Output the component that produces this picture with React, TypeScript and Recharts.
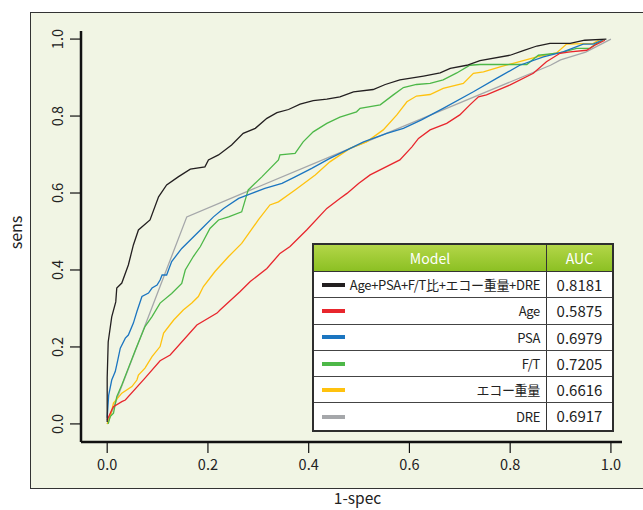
import React from 'react';
import { LineChart, Line, XAxis, YAxis } from 'recharts';

// ROC curves: [1-spec, sens]
const comboCurve: [number, number][] = [
  [0, 0.005], [0, 0.12], [0.002, 0.213], [0.009, 0.278], [0.017, 0.317], [0.019, 0.353],
  [0.029, 0.366], [0.042, 0.413], [0.052, 0.465], [0.062, 0.504], [0.085, 0.53], [0.102, 0.59],
  [0.118, 0.621], [0.141, 0.642], [0.165, 0.662], [0.194, 0.668], [0.201, 0.686], [0.221, 0.699],
  [0.247, 0.725], [0.27, 0.755], [0.294, 0.768], [0.317, 0.794], [0.337, 0.809], [0.36, 0.817],
  [0.383, 0.831], [0.409, 0.84], [0.436, 0.844], [0.462, 0.85], [0.489, 0.863], [0.528, 0.869],
  [0.552, 0.882], [0.581, 0.894], [0.628, 0.904], [0.661, 0.912], [0.681, 0.924], [0.714, 0.932],
  [0.74, 0.944], [0.8, 0.958], [0.826, 0.97], [0.853, 0.982], [0.879, 0.989], [0.919, 0.989],
  [0.948, 0.997], [0.991, 1.0],
];

const ageCurve: [number, number][] = [
  [0, 0.01], [0.009, 0.036], [0.0125, 0.045], [0.029, 0.058], [0.036, 0.062], [0.075, 0.119],
  [0.105, 0.164], [0.125, 0.179], [0.178, 0.257], [0.218, 0.288], [0.224, 0.296], [0.264, 0.344],
  [0.284, 0.37], [0.317, 0.404], [0.343, 0.443], [0.363, 0.461], [0.396, 0.504], [0.436, 0.56],
  [0.462, 0.586], [0.476, 0.599], [0.499, 0.625], [0.522, 0.647], [0.581, 0.686], [0.605, 0.72],
  [0.618, 0.742], [0.641, 0.764], [0.674, 0.781], [0.7, 0.803], [0.72, 0.829], [0.737, 0.85],
  [0.753, 0.855], [0.8, 0.881], [0.846, 0.911], [0.872, 0.941], [0.899, 0.963], [0.919, 0.967],
  [0.952, 0.971], [0.968, 0.984], [0.988, 0.997],
];

const psaCurve: [number, number][] = [
  [0, 0.016], [0.003, 0.075], [0.009, 0.114], [0.016, 0.136], [0.021, 0.166], [0.026, 0.197],
  [0.036, 0.223], [0.042, 0.231], [0.052, 0.262], [0.059, 0.292], [0.069, 0.331], [0.082, 0.34],
  [0.089, 0.353], [0.099, 0.361], [0.105, 0.374], [0.109, 0.387], [0.118, 0.387], [0.128, 0.422],
  [0.148, 0.456], [0.168, 0.482], [0.188, 0.508], [0.211, 0.538], [0.231, 0.56], [0.261, 0.586],
  [0.287, 0.599], [0.313, 0.612], [0.347, 0.625], [0.373, 0.642], [0.406, 0.664], [0.442, 0.69],
  [0.509, 0.733], [0.555, 0.755], [0.588, 0.768], [0.624, 0.79], [0.667, 0.82], [0.727, 0.863],
  [0.773, 0.898], [0.819, 0.932], [0.866, 0.954], [0.905, 0.967], [0.945, 0.987], [0.965, 0.987],
  [0.982, 0.997],
];

const ftCurve: [number, number][] = [
  [0.002, 0], [0.006, 0.019], [0.0125, 0.028], [0.019, 0.071], [0.029, 0.101], [0.042, 0.145],
  [0.056, 0.192], [0.075, 0.253], [0.089, 0.279], [0.105, 0.314], [0.128, 0.339], [0.148, 0.365],
  [0.155, 0.4], [0.171, 0.435], [0.185, 0.461], [0.204, 0.508], [0.221, 0.53], [0.241, 0.538],
  [0.267, 0.551], [0.28, 0.608], [0.307, 0.642], [0.34, 0.686], [0.343, 0.699], [0.373, 0.703],
  [0.389, 0.733], [0.409, 0.759], [0.436, 0.781], [0.462, 0.797], [0.495, 0.811], [0.502, 0.82],
  [0.542, 0.829], [0.568, 0.855], [0.588, 0.874], [0.614, 0.882], [0.641, 0.885], [0.667, 0.894],
  [0.694, 0.912], [0.72, 0.932], [0.74, 0.934], [0.833, 0.934], [0.856, 0.958], [0.899, 0.964],
  [0.932, 0.976], [0.958, 0.976], [0.972, 0.989], [0.985, 0.997],
];

const echoCurve: [number, number][] = [
  [0, 0], [0.006, 0.019], [0.0125, 0.054], [0.029, 0.08], [0.049, 0.097], [0.059, 0.114],
  [0.062, 0.127], [0.075, 0.145], [0.089, 0.175], [0.105, 0.201], [0.112, 0.236], [0.132, 0.27],
  [0.151, 0.296], [0.168, 0.314], [0.181, 0.331], [0.191, 0.357], [0.214, 0.396], [0.241, 0.435],
  [0.267, 0.469], [0.3, 0.53], [0.323, 0.569], [0.34, 0.577], [0.373, 0.608], [0.413, 0.647],
  [0.442, 0.681], [0.482, 0.716], [0.515, 0.733], [0.548, 0.764], [0.575, 0.803], [0.595, 0.837],
  [0.614, 0.852], [0.641, 0.856], [0.667, 0.872], [0.707, 0.885], [0.727, 0.911], [0.747, 0.915],
  [0.78, 0.928], [0.806, 0.937], [0.853, 0.954], [0.892, 0.964], [0.912, 0.987], [0.965, 0.989],
  [0.978, 0.999],
];

const dreCurve: [number, number][] = [
  [0, 0], [0.158, 0.538], [0.442, 0.694], [0.88, 0.932], [0.9, 0.946], [0.95, 0.966], [1.0, 1.0],
];

const modelNames = ['Age+PSA+F/T比+エコー重量+DRE', 'Age', 'PSA', 'F/T', 'エコー重量', 'DRE'];
const aucValues = ['0.8181', '0.5875', '0.6979', '0.7205', '0.6616', '0.6917'];
const xTicks = [0, 0.2, 0.4, 0.6, 0.8, 1.0];
const yTicks = [0, 0.2, 0.4, 0.6, 0.8, 1.0];

const curves = [comboCurve, ageCurve, psaCurve, ftCurve, echoCurve, dreCurve];
const colors = ['#231f20', '#e8262d', '#1b75c0', '#4db848', '#ffc20e', '#a5a7aa'];
const font = '"Noto Sans CJK JP", "Noto Sans", sans-serif';

const series = curves.map((c) => c.map(([x, y]) => ({ x, y })));

const XTick = (props: any) => {
  const { x, y, payload } = props;
  return (
    <text x={x} y={y} textAnchor="middle" dominantBaseline="central" fontSize={14.5} fill="#222" fontFamily={font}>
      {payload.value.toFixed(1)}
    </text>
  );
};

const YTick = (props: any) => {
  const { x, y, payload } = props;
  return (
    <text x={x} y={y} transform={`rotate(-90, ${x}, ${y})`} textAnchor="middle" dominantBaseline="central" fontSize={14.5} fill="#222" fontFamily={font}>
      {payload.value.toFixed(1)}
    </text>
  );
};

const AucTable = () => (
  <div style={{ position: 'absolute', left: 312, top: 243, width: 302, boxSizing: 'border-box', border: '2px solid #2e2e2e', background: '#fff', fontFamily: font }}>
    <div style={{ display: 'flex', height: 26, background: 'linear-gradient(to bottom, #b3d648, #8cc023)', color: '#fff', fontSize: 14, borderBottom: '1px solid #333' }}>
      <div style={{ width: 233, boxSizing: 'border-box', borderRight: '1.5px solid #333', textAlign: 'center', lineHeight: '26px' }}>Model</div>
      <div style={{ flex: 1, textAlign: 'center', lineHeight: '26px' }}>AUC</div>
    </div>
    {modelNames.map((name, i) => (
      <div key={name} style={{ display: 'flex', height: 26.3, boxSizing: 'border-box', borderBottom: i < modelNames.length - 1 ? '1px solid #444' : 'none', color: '#222' }}>
        <div style={{ width: 233, boxSizing: 'border-box', borderRight: '1.5px solid #333', display: 'flex', alignItems: 'center', paddingLeft: 8, paddingRight: 6 }}>
          <div style={{ width: 23, height: 4, background: colors[i], flexShrink: 0 }} />
          <div style={{ flex: 1, textAlign: 'right', fontSize: 13, letterSpacing: -0.3, whiteSpace: 'nowrap' }}>{name}</div>
        </div>
        <div style={{ flex: 1, textAlign: 'center', fontSize: 15, lineHeight: '25px' }}>{aucValues[i]}</div>
      </div>
    ))}
  </div>
);

export default function App() {
  const order = [5, 4, 3, 2, 1, 0];
  return (
    <div style={{ position: 'relative', width: 643, height: 510, overflow: 'hidden', background: '#fff' }}>
      <style>{'body{margin:0}'}</style>
      <div style={{ position: 'absolute', left: 30, top: 12, width: 660, height: 477, boxSizing: 'border-box', border: '1.5px solid #333', background: '#f1f5e4' }} />
      <div style={{ position: 'absolute', left: 0, top: 0 }}>
        <LineChart width={643} height={510} margin={{ top: 31, right: 21, bottom: 0, left: 0 }}>
          <XAxis
            type="number"
            dataKey="x"
            domain={[-0.052, 1.022]}
            allowDataOverflow
            ticks={xTicks}
            height={68}
            tickSize={11}
            tickMargin={10}
            tick={<XTick />}
            axisLine={{ stroke: '#111', strokeWidth: 2.5 }}
            tickLine={{ stroke: '#111', strokeWidth: 1.2 }}
            label={{
              content: ({ viewBox }: any) => (
                <text x={viewBox.x + viewBox.width / 2 + 6} y={viewBox.y + 55} textAnchor="middle" dominantBaseline="central" fontSize={15.5} fill="#222" fontFamily={font}>
                  1-spec
                </text>
              ),
            }}
          />
          <YAxis
            type="number"
            dataKey="y"
            domain={[-0.047, 1.021]}
            allowDataOverflow
            ticks={yTicks}
            width={81}
            tickSize={11}
            tickMargin={13}
            tick={<YTick />}
            axisLine={{ stroke: '#111', strokeWidth: 2.5 }}
            tickLine={{ stroke: '#111', strokeWidth: 1.2 }}
            label={{
              content: ({ viewBox }: any) => {
                const cx = viewBox.x + 15;
                const cy = viewBox.y + viewBox.height / 2 - 4;
                return (
                  <text x={cx} y={cy} transform={`rotate(-90, ${cx}, ${cy})`} textAnchor="middle" dominantBaseline="central" fontSize={16} fill="#222" fontFamily={font}>
                    sens
                  </text>
                );
              },
            }}
          />
          {order.map((i) => (
            <Line
              key={modelNames[i]}
              data={series[i]}
              dataKey="y"
              type="linear"
              stroke={colors[i]}
              strokeWidth={1.3}
              dot={false}
              activeDot={false}
              isAnimationActive={false}
            />
          ))}
        </LineChart>
      </div>
      <AucTable />
    </div>
  );
}
